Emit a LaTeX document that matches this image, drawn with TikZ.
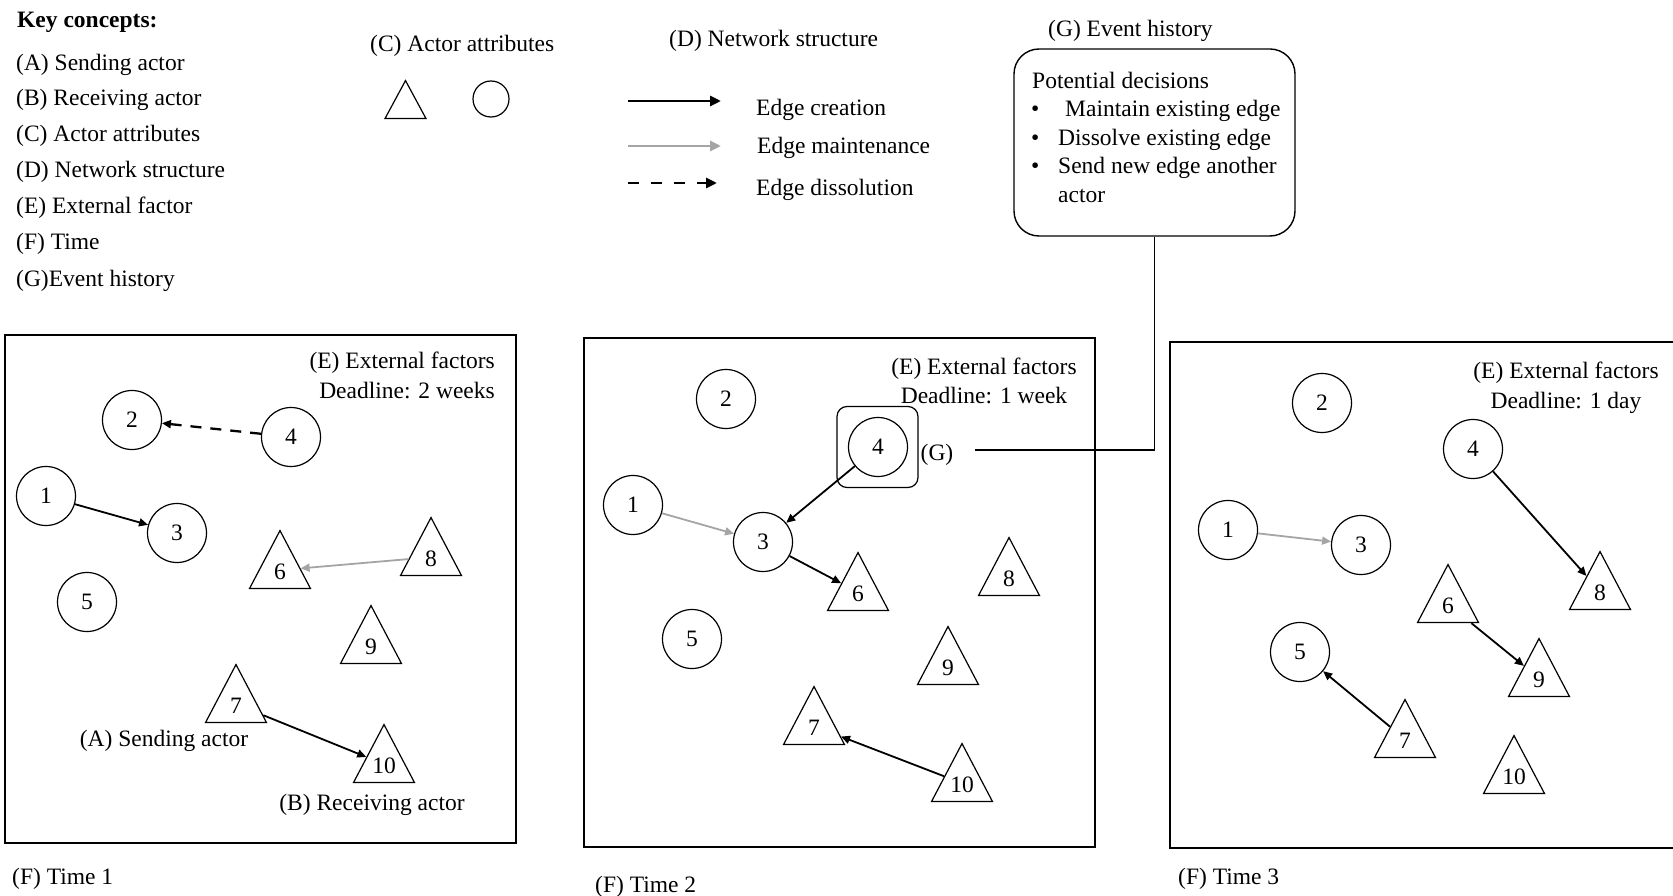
\documentclass[tikz,border=0pt]{standalone}
\usepackage{fontspec}
\setmainfont{Liberation Serif}
\usetikzlibrary{arrows.meta,shapes.geometric}
\definecolor{keepgray}{RGB}{165,165,165}

% actor nodes: circles carry their number as text, triangles as a label
\newcommand{\circactor}[3]{\node[actor] (#1) at (#2) {#3};}
\newcommand{\triactor}[3]{\node[triactor, label={[trinum]-90:#3}] (#1) at (#2) {};}

\begin{document}
\begin{tikzpicture}[x=1pt,y=-1pt,
  every node/.style={font=\fontsize{23.5}{28.5}\selectfont, inner sep=0pt},
  txt/.style={text height=16pt, text depth=5pt, yshift=-3.5pt},
  actor/.style={circle, draw, line width=1.2pt, minimum size=59pt},
  triactor/.style={isosceles triangle, isosceles triangle stretches,
    shape border rotate=90, draw, line width=1.2pt,
    minimum width=61pt, minimum height=58pt, anchor=apex},
  trinum/.style={anchor=base, yshift=9.5pt},
  panel/.style={line width=1.3pt},
  create/.style={-{Triangle[length=9pt,width=8pt]}, line width=1.8pt},
  maintain/.style={create, draw=keepgray},
  dissolve/.style={create, line width=2.3pt, dash pattern=on 11pt off 9pt},
  legcreate/.style={-{Triangle[length=11pt,width=10pt]}, line width=2.8pt},
  legmaintain/.style={legcreate, draw=keepgray},
  legdissolve/.style={legcreate, dash pattern=on 11pt off 12pt},
]
\fill[white] (0,0) rectangle (1673,896);
\useasboundingbox (0,0) rectangle (1673,896);

% ---------- key concepts ----------
\node[txt, anchor=west, font=\fontsize{23.5}{28.5}\selectfont\bfseries] (kc) at (17,19) {Key concepts:};
\node[txt, anchor=west] (kca) at (16,62)  {(A) Sending actor};
\node[txt, anchor=west] (kcb) at (16,97)  {(B) Receiving actor};
\node[txt, anchor=west] (kcc) at (16,133) {(C) Actor attributes};
\node[txt, anchor=west] (kcd) at (16,169) {(D) Network structure};
\node[txt, anchor=west] (kce) at (16,205) {(E) External factor};
\node[txt, anchor=west] (kcf) at (16,241) {(F) Time};
\node[txt, anchor=west] (kcg) at (16,277) {(G)Event history};

% ---------- actor attributes legend ----------
\node[txt, anchor=west] (attr) at (370,43) {(C) Actor attributes};
\node[triactor, minimum width=41pt, minimum height=38pt] (legtri) at (405.5,79) {};
\node[actor, minimum size=36pt] (legcirc) at (491,99) {};

% ---------- network structure legend ----------
\node[txt, anchor=west] (netstr) at (669,38) {(D) Network structure};
\coordinate (lc0) at (628,101); \coordinate (lc1) at (721,101);
\coordinate (lm0) at (628,146); \coordinate (lm1) at (721,146);
\coordinate (ld0) at (628,183); \coordinate (ld1) at (717,183);
\draw[legcreate] (lc0) -- (lc1);
\draw[legmaintain] (lm0) -- (lm1);
\draw[legdissolve] (ld0) -- (ld1);
\node[txt, anchor=west] (lct) at (756,107) {Edge creation};
\node[txt, anchor=west] (lmt) at (757,145) {Edge maintenance};
\node[txt, anchor=west] (ldt) at (756,187) {Edge dissolution};

% ---------- event history ----------
\node[txt, anchor=west] (evh) at (1048,28) {(G) Event history};
\node[draw, rounded corners=25pt, line width=1.4pt, minimum width=281pt, minimum height=187pt] (hist) at (1154.5,142.5) {};
\node[txt, anchor=west] (pd)  at (1032,80)  {Potential decisions};
\node[txt, anchor=west] (pd1) at (1031,108) {\makebox[34pt][l]{\textbullet}Maintain existing edge};
\node[txt, anchor=west] (pd2) at (1031,137) {\makebox[27pt][l]{\textbullet}Dissolve existing edge};
\node[txt, anchor=west] (pd3) at (1031,165) {\makebox[27pt][l]{\textbullet}Send new edge another};
\node[txt, anchor=west] (pd4) at (1058,194) {actor};

% ---------- time 1 ----------
\draw[panel] (5,335) rectangle (516,843);
\node[align=right, anchor=east, font=\fontsize{23.5}{30}\selectfont] (ext1) at (495,375.5) {(E) External factors\\Deadline: 2 weeks};
\circactor{a2}{132,420}{2}
\circactor{a4}{291,437}{4}
\circactor{a1}{46,496}{1}
\circactor{a3}{177,533}{3}
\circactor{a5}{87,602}{5}
\triactor{a6}{280,529}{6}
\triactor{a8}{431,516}{8}
\triactor{a9}{371,604}{9}
\triactor{a7}{236,663}{7}
\triactor{a10}{384,723}{10}
\draw[dissolve] (a4) -- (a2);
\draw[create] (a1) -- (a3);
\draw[maintain] (a8) -- (a6);
\draw[create] (a7) -- (a10);
\node[txt] (send) at (164,737) {(A) Sending actor};
\node[txt] (recv) at (372,801) {(B) Receiving actor};
\node[txt, anchor=west] (t1) at (12,875) {(F) Time 1};

% ---------- time 2 ----------
\draw[panel] (584,338) rectangle (1095,847);
\node[align=center, font=\fontsize{23.5}{29}\selectfont] (ext2) at (984,380.5) {(E) External factors\\Deadline: 1 week};
\circactor{b2}{726,399}{2}
\circactor{b4}{878,447}{4}
\circactor{b1}{633,505}{1}
\circactor{b3}{763,542}{3}
\circactor{b5}{692,639}{5}
\triactor{b6}{858,551}{6}
\triactor{b8}{1009,536}{8}
\triactor{b9}{948,625}{9}
\triactor{b7}{814,685}{7}
\triactor{b10}{962,742}{10}
\node[draw, rounded corners=10pt, line width=1.2pt, minimum size=81pt] (focus) at (877.5,447) {};
\node[txt] (gtag) at (937,451) {(G)};
\draw[maintain] (b1) -- (b3);
\draw[create] (b4) -- (b3);
\draw[create] (b3) -- (b6);
\draw[create] (b10) -- (b7);
\coordinate (gend) at (975,450);
\draw[line width=1.2pt] (hist.south) |- (gend);
\node[txt, anchor=west] (t2) at (595,883) {(F) Time 2};

% ---------- time 3 ----------
\draw[panel] (1673,342) -- (1170,342) -- (1170,848) -- (1673,848);
\node[align=center, font=\fontsize{23.5}{30}\selectfont] (ext3) at (1566,387.5) {(E) External factors\\Deadline: 1 day};
\circactor{c2}{1322,403}{2}
\circactor{c4}{1473,449}{4}
\circactor{c1}{1228,530}{1}
\circactor{c3}{1361,545}{3}
\circactor{c5}{1300,652}{5}
\triactor{c6}{1448,563}{6}
\triactor{c8}{1600,550}{8}
\triactor{c9}{1539,637}{9}
\triactor{c7}{1405,698}{7}
\triactor{c10}{1514,734}{10}
\draw[maintain] (c1) -- (c3);
\draw[create] (c4) -- (c8);
\draw[create] (c6) -- (c9);
\draw[create] (c7) -- (c5);
\node[txt, anchor=west] (t3) at (1178,875) {(F) Time 3};
\end{tikzpicture}
\end{document}
